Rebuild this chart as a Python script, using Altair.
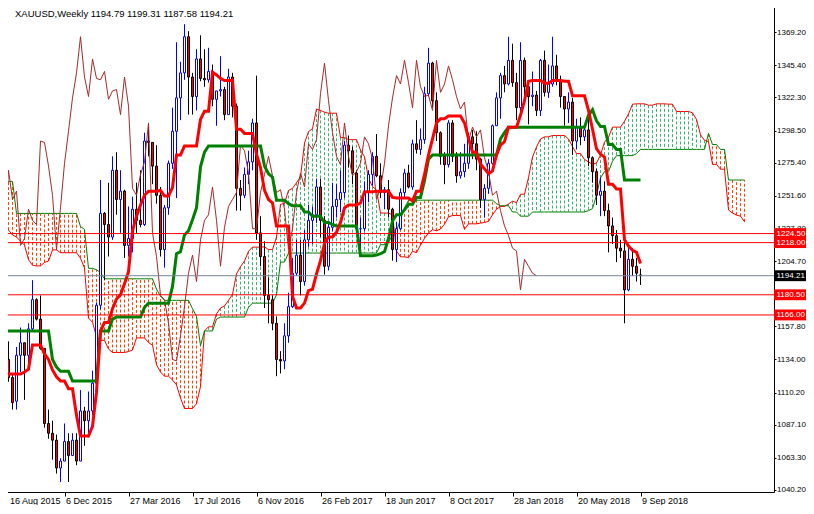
import json
import altair as alt
import numpy as np
import pandas as pd

FONT = "Liberation Sans"

# x-axis labels (every 16th weekly bar)
label_weeks = [0, 16, 32, 48, 64, 80, 96, 112, 128, 144, 160]
date_labels = ["16 Aug 2015", "6 Dec 2015", "27 Mar 2016", "17 Jul 2016", "6 Nov 2016",
               "26 Feb 2017", "18 Jun 2017", "8 Oct 2017", "28 Jan 2018", "20 May 2018",
               "9 Sep 2018"]

# weekly XAUUSD bars, 16 Aug 2015 (bar 0) .. 9 Sep 2018 (bar 160)
opens = [1113, 1159, 1134, 1121, 1104, 1137, 1146, 1137, 1156, 1177,
         1163, 1142, 1088, 1081, 1076, 1056, 1061, 1075, 1065, 1076,
         1061, 1097, 1090, 1097, 1117, 1173, 1239, 1231, 1222, 1270,
         1249, 1255, 1216, 1221, 1242, 1234, 1231, 1291, 1290, 1273,
         1252, 1213, 1243, 1275, 1298, 1322, 1340, 1366, 1337, 1323,
         1350, 1336, 1335, 1341, 1321, 1327, 1328, 1310, 1337, 1316,
         1257, 1252, 1267, 1276, 1304, 1225, 1208, 1180, 1177, 1160,
         1134, 1133, 1151, 1172, 1196, 1209, 1190, 1220, 1234, 1238,
         1258, 1234, 1201, 1229, 1244, 1249, 1254, 1288, 1284, 1268,
         1228, 1228, 1254, 1267, 1280, 1266, 1254, 1256, 1242, 1213,
         1228, 1254, 1268, 1258, 1289, 1285, 1292, 1325, 1347, 1320,
         1297, 1280, 1274, 1304, 1280, 1266, 1269, 1275, 1294, 1289,
         1278, 1249, 1257, 1275, 1302, 1322, 1338, 1332, 1349, 1333,
         1315, 1349, 1330, 1323, 1324, 1313, 1349, 1326, 1332, 1345,
         1335, 1323, 1314, 1319, 1291, 1301, 1294, 1299, 1279, 1269,
         1252, 1255, 1241, 1230, 1223, 1214, 1212, 1184, 1206, 1201,
         1194.79]
highs = [1168, 1170, 1147, 1124, 1143, 1157, 1146, 1160, 1191, 1178,
         1180, 1142, 1098, 1090, 1080, 1063, 1088, 1081, 1081, 1081,
         1112, 1100, 1111, 1126, 1175, 1263, 1240, 1261, 1280, 1283,
         1270, 1256, 1244, 1251, 1261, 1270, 1297, 1303, 1290, 1288,
         1258, 1245, 1277, 1315, 1362, 1348, 1375, 1370, 1340, 1357,
         1367, 1357, 1358, 1346, 1327, 1352, 1330, 1343, 1340, 1318,
         1263, 1272, 1284, 1307, 1338, 1237, 1219, 1193, 1180, 1165,
         1140, 1160, 1182, 1207, 1220, 1220, 1227, 1245, 1244, 1264,
         1264, 1237, 1232, 1261, 1260, 1270, 1291, 1295, 1287, 1270,
         1236, 1262, 1270, 1283, 1296, 1275, 1258, 1263, 1243, 1233,
         1257, 1271, 1274, 1292, 1306, 1300, 1330, 1358, 1348, 1326,
         1298, 1283, 1306, 1306, 1283, 1283, 1289, 1297, 1299, 1298,
         1279, 1260, 1278, 1303, 1326, 1340, 1345, 1366, 1361, 1340,
         1362, 1351, 1332, 1341, 1327, 1350, 1356, 1346, 1366, 1353,
         1338, 1323, 1326, 1322, 1307, 1308, 1303, 1309, 1280, 1271,
         1265, 1262, 1246, 1236, 1227, 1220, 1219, 1214, 1214, 1207,
         1199.31]
lows = [1112, 1117, 1118, 1098, 1098, 1125, 1105, 1131, 1155, 1162,
        1141, 1085, 1077, 1062, 1052, 1046, 1061, 1046, 1065, 1058,
        1061, 1072, 1078, 1094, 1111, 1170, 1191, 1208, 1220, 1238,
        1225, 1207, 1208, 1211, 1225, 1229, 1230, 1280, 1260, 1246,
        1208, 1200, 1238, 1271, 1250, 1306, 1335, 1310, 1310, 1313,
        1334, 1330, 1333, 1316, 1302, 1323, 1306, 1310, 1308, 1241,
        1241, 1250, 1260, 1270, 1220, 1201, 1171, 1160, 1155, 1122,
        1124, 1127, 1146, 1171, 1194, 1180, 1187, 1215, 1217, 1232,
        1222, 1195, 1198, 1226, 1236, 1240, 1250, 1272, 1260, 1227,
        1214, 1226, 1247, 1259, 1265, 1250, 1242, 1236, 1205, 1204,
        1227, 1250, 1257, 1256, 1282, 1281, 1289, 1323, 1315, 1291,
        1274, 1260, 1272, 1276, 1261, 1264, 1265, 1271, 1278, 1270,
        1243, 1236, 1253, 1274, 1302, 1307, 1326, 1331, 1330, 1306,
        1310, 1320, 1303, 1316, 1309, 1309, 1323, 1322, 1330, 1331,
        1315, 1302, 1304, 1281, 1285, 1288, 1291, 1273, 1261, 1245,
        1237, 1237, 1211, 1217, 1204, 1207, 1160, 1183, 1194, 1190,
        1187.58]
closes = [1159, 1134, 1121, 1103, 1137, 1146, 1137, 1156, 1177, 1163,
          1142, 1088, 1081, 1076, 1056, 1061, 1075, 1065, 1076, 1061,
          1097, 1090, 1097, 1117, 1173, 1239, 1231, 1222, 1270, 1249,
          1255, 1216, 1221, 1242, 1234, 1231, 1291, 1290, 1273, 1252,
          1213, 1243, 1275, 1298, 1322, 1340, 1366, 1337, 1323, 1350,
          1336, 1335, 1341, 1321, 1327, 1328, 1310, 1337, 1316, 1257,
          1252, 1267, 1276, 1304, 1225, 1208, 1180, 1177, 1160, 1134,
          1133, 1151, 1172, 1196, 1209, 1190, 1220, 1234, 1238, 1258,
          1234, 1201, 1229, 1244, 1249, 1254, 1288, 1284, 1268, 1228,
          1228, 1254, 1267, 1280, 1266, 1254, 1256, 1242, 1213, 1228,
          1254, 1268, 1258, 1289, 1285, 1292, 1325, 1347, 1320, 1297,
          1280, 1274, 1304, 1280, 1266, 1269, 1275, 1294, 1289, 1278,
          1249, 1257, 1275, 1302, 1322, 1338, 1332, 1349, 1333, 1315,
          1349, 1330, 1323, 1324, 1313, 1349, 1326, 1332, 1345, 1335,
          1323, 1314, 1319, 1291, 1301, 1294, 1299, 1279, 1269, 1252,
          1255, 1241, 1230, 1223, 1214, 1212, 1184, 1206, 1201, 1196,
          1194.21]

# earlier weekly highs / lows (16 Feb 2014 .. 9 Aug 2015), only feeding the Ichimoku windows
hist_highs = [1332, 1345, 1355, 1384, 1392, 1337, 1306, 1331, 1331, 1305,
              1316, 1315, 1305, 1300, 1295, 1256, 1278, 1325, 1326, 1332,
              1346, 1327, 1325, 1311, 1322, 1320, 1316, 1296, 1293, 1269,
              1240, 1237, 1222, 1230, 1250, 1255, 1234, 1180, 1198, 1209,
              1205, 1221, 1238, 1209, 1198, 1202, 1225, 1282, 1307, 1295,
              1284, 1242, 1226, 1219, 1223, 1175, 1187, 1219, 1219, 1224,
              1209, 1208, 1214, 1198, 1228, 1232, 1206, 1202, 1193, 1205,
              1205, 1180, 1170, 1167, 1132, 1105, 1098, 1124]
hist_lows = [1310, 1316, 1323, 1335, 1321, 1290, 1277, 1291, 1284, 1268,
             1277, 1287, 1284, 1285, 1250, 1240, 1251, 1268, 1308, 1310,
             1311, 1292, 1289, 1280, 1287, 1302, 1273, 1275, 1259, 1228,
             1214, 1207, 1191, 1184, 1222, 1228, 1161, 1132, 1145, 1180,
             1164, 1142, 1190, 1187, 1170, 1166, 1192, 1223, 1277, 1251,
             1232, 1216, 1195, 1196, 1162, 1148, 1142, 1184, 1178, 1192,
             1183, 1175, 1170, 1180, 1182, 1201, 1182, 1162, 1170, 1176,
             1168, 1162, 1146, 1130, 1077, 1077, 1080, 1084]

level_prices = [1224.50, 1218.00, 1180.50, 1166.00]
bid_price = 1194.21
y_ticks = [1369.20, 1345.40, 1322.30, 1298.50, 1275.40, 1251.60, 1227.80, 1204.70,
           1157.80, 1134.00, 1110.20, 1087.10, 1063.30, 1040.20]
header = "XAUUSD,Weekly  1194.79 1199.31 1187.58 1194.21"

# ---------------- tables ----------------
n = len(closes)
candles = pd.DataFrame({"k": np.arange(n), "open": opens, "high": highs,
                        "low": lows, "close": closes})
candles["dir"] = np.where(candles["close"] >= candles["open"], "up", "down")

H = np.array(hist_highs + highs, dtype=float)
L = np.array(hist_lows + lows, dtype=float)
off = len(hist_highs)


def mid(i, p):
    return (H[i - p + 1:i + 1].max() + L[i - p + 1:i + 1].min()) / 2.0


lines = pd.DataFrame({"k": np.arange(n),
                      "tenkan": [mid(off + i, 9) for i in range(n)],
                      "kijun": [mid(off + i, 26) for i in range(n)]})
chikou = pd.DataFrame({"k": np.arange(n) - 26, "close": closes})
cloud_rows = []
for kk in range(n + 26):
    idx = off + kk - 26
    a = (mid(idx, 9) + mid(idx, 26)) / 2.0
    b = mid(idx, 52)
    cloud_rows.append({"k": kk, "a": a, "b": b, "kind": "up" if a > b else "down"})
cloud = pd.DataFrame(cloud_rows)

levels = pd.DataFrame({"price": level_prices, "label": [f"{p:.2f}" for p in level_prices],
                       "kind": "level"})
bid = pd.DataFrame({"price": [bid_price], "label": [f"{bid_price:.2f}"], "kind": "bid"})
tags = pd.concat([levels, bid], ignore_index=True)

# ---------------- scales / axes ----------------
W, HGT = 774, 492
xscale = alt.Scale(domain=[-0.125, 193.375], nice=False, zero=False)
yscale = alt.Scale(domain=[1038.76, 1392.37], nice=False, zero=False)
label_expr = json.dumps(date_labels) + "[round(datum.value / 16)]"
xaxis = alt.Axis(values=label_weeks, labelExpr=label_expr, title=None, grid=False,
                 labelAlign="left", labelBaseline="top", labelPadding=0,
                 labelOffset={"condition": {"test": "datum.value == 0", "value": 9}, "value": 1},
                 tickSize=4, tickColor="black", domainColor="black", labelColor="black",
                 labelFont=FONT, labelFontSize=9, labelFlush=False, labelOverlap=False,
                 labelBound=False)
yaxis = alt.Axis(orient="right", values=y_ticks, format=".2f", title=None, grid=False,
                 tickSize=2, labelPadding=0.5, tickColor="black", domainColor="black",
                 labelColor="black", labelFont=FONT, labelFontSize=8,
                 labelOverlap=False, labelFlush=False, labelBound=False)


def X(field):
    return alt.X(field, type="quantitative", scale=xscale, axis=xaxis)


def Y(field):
    return alt.Y(field, type="quantitative", scale=yscale, axis=yaxis)


UP = "datum.kind == 'up'"
hatch = alt.Chart(cloud).mark_rule(strokeWidth=1, strokeDash=[3, 2], clip=True).encode(
    x=X("k"), y=Y("a"), y2="b",
    color=alt.condition(UP, alt.value("#3CB371"), alt.value("#FF4500")))
span_a = alt.Chart(cloud).mark_line(color="#FF0000", strokeWidth=1, clip=True).encode(
    x=X("k"), y=Y("a"))
span_b = alt.Chart(cloud).mark_line(color="#008000", strokeWidth=1, clip=True).encode(
    x=X("k"), y=Y("b"))

BULL = "datum.dir == 'up'"
wicks = alt.Chart(candles).mark_rule(strokeWidth=1, clip=True).encode(
    x=X("k"), y=Y("low"), y2="high",
    color=alt.condition(BULL, alt.value("#0000FF"), alt.value("#000000")))
bodies = alt.Chart(candles).transform_calculate(
    xa="datum.k - 0.25", xb="datum.k + 0.25"
).mark_rect(strokeWidth=1, clip=True).encode(
    x=X("xa"), x2="xb", y=Y("open"), y2="close",
    fill=alt.condition(BULL, alt.value("#FFFFFF"), alt.value("#FF0000")),
    stroke=alt.condition(BULL, alt.value("#0000FF"), alt.value("#000000")))

chikou_line = alt.Chart(chikou).mark_line(color="#A52A2A", strokeWidth=1, clip=True).encode(
    x=X("k"), y=Y("close"))
kijun_line = alt.Chart(lines).mark_line(color="#008000", strokeWidth=3, clip=True).encode(
    x=X("k"), y=Y("kijun"))
tenkan_line = alt.Chart(lines).mark_line(color="#FF0000", strokeWidth=3, clip=True).encode(
    x=X("k"), y=Y("tenkan"))

level_rules = alt.Chart(levels).mark_rule(color="#FF0000", strokeWidth=1).encode(y=Y("price"))
bid_rule = alt.Chart(bid).mark_rule(color="#778899", strokeWidth=1).encode(y=Y("price"))

box_path = "M-1,-0.34L1,-0.34L1,0.34L-1,0.34Z"
tag_boxes = alt.Chart(tags).mark_point(shape=box_path, size=1024, filled=True, opacity=1,
                                       strokeWidth=0).encode(
    x=alt.value(790), y=Y("price"),
    color=alt.condition("datum.kind == 'bid'", alt.value("#000000"), alt.value("#FF0000")))
tag_text = alt.Chart(tags).mark_text(align="left", baseline="middle", color="white",
                                     font=FONT, fontSize=8, dy=0.5).encode(
    x=alt.value(776.5), y=Y("price"), text="label:N")

head = alt.Chart(pd.DataFrame({"t": [header]})).mark_text(
    align="left", baseline="middle", font=FONT, fontSize=9.5, color="black").encode(
    x=alt.value(15), y=alt.value(14), text="t:N")

chart = alt.layer(
    hatch, span_a, span_b, wicks, bodies, chikou_line, kijun_line, tenkan_line,
    level_rules, bid_rule, tag_boxes, tag_text, head
).properties(
    width=W, height=HGT,
    autosize=alt.AutoSizeParams(type="none"),
    padding={"left": -8, "top": -8, "right": 32, "bottom": 13},
    background="white",
).configure_view(strokeWidth=0)

chart.save("out.html", embed_options={"renderer": "svg", "actions": False})
